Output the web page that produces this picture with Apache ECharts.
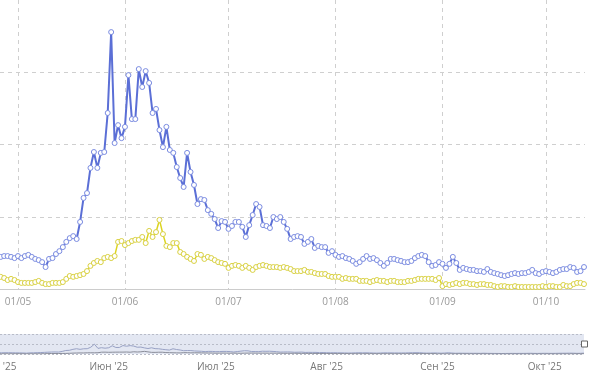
<!DOCTYPE html>
<html><head><meta charset="utf-8">
<script src="https://cdn.jsdelivr.net/npm/echarts@6/dist/echarts.min.js"></script>
<style>html,body{margin:0;padding:0;background:#fff}#c{width:592px;height:385px}</style>
</head><body><div id="c"></div>
<script>
// Daily series, first day 2025-04-26
const startDay = [2025, 3, 26];
const seriesBlue = [
 11.1,11.4,11.4,11.1,10.7,11.4,10.7,11.4,11.8,11.1,
 10.4,10.0,9.3,7.6,10.4,10.7,12.1,13.1,14.5,16.3,
 17.6,18.3,17.3,23.2,31.5,33.2,41.9,47.4,41.9,47.1,
 47.4,60.9,88.9,50.5,56.7,52.2,56.1,74.0,58.8,58.8,
 76.1,69.9,75.4,71.3,60.9,62.3,55.0,49.1,56.1,48.1,
 47.1,42.2,38.4,35.3,47.1,40.5,36.0,29.4,31.1,30.8,
 27.3,26.0,24.2,21.1,23.5,23.2,20.8,21.8,23.2,23.2,
 21.5,18.0,22.1,25.6,29.4,28.4,22.1,21.8,21.1,24.9,
 24.2,24.9,23.2,20.8,17.3,18.0,18.3,18.0,15.6,16.3,
 17.3,14.2,14.9,14.5,14.5,12.5,13.1,11.8,11.1,11.4,
 10.7,10.4,9.7,8.7,9.3,10.4,11.4,10.4,10.7,10.0,
 9.0,8.0,9.0,10.4,10.4,10.0,9.7,9.3,9.3,9.7,
 10.7,11.4,11.8,11.4,9.3,8.0,8.3,9.3,8.7,7.3,
 8.7,11.1,9.0,6.6,7.3,6.9,6.6,6.6,6.2,6.2,
 5.9,6.9,5.9,5.5,5.2,4.8,4.5,4.8,5.2,5.5,
 5.2,5.5,5.5,5.9,6.6,5.5,5.2,5.9,6.2,5.9,
 5.5,5.9,6.6,6.9,6.9,7.6,7.3,5.9,6.2,7.6
];
const seriesYellow = [
 4.2,3.8,3.1,3.5,3.1,2.4,2.1,2.1,2.1,2.1,
 2.4,2.8,2.1,1.7,1.7,2.1,2.1,2.1,2.4,3.5,
 4.5,4.2,4.5,4.8,5.2,6.2,8.0,9.0,9.7,9.3,
 10.7,11.1,10.7,11.4,16.3,16.6,15.2,15.9,16.6,17.0,
 17.0,18.0,15.9,20.1,18.0,19.7,23.9,19.0,14.9,14.5,
 15.9,15.9,12.8,12.1,11.1,10.4,9.7,12.1,11.8,10.4,
 11.1,10.7,10.0,9.3,9.0,8.7,7.3,8.0,8.3,8.0,
 7.3,8.0,7.3,6.6,7.6,8.0,8.3,8.0,7.6,7.6,
 7.6,7.3,7.6,7.3,6.9,6.2,6.2,6.2,6.6,5.9,
 5.9,5.5,5.2,5.2,5.2,4.5,4.2,4.2,4.2,3.5,
 3.8,3.5,3.5,3.5,2.8,2.8,2.8,2.4,2.8,3.1,
 2.8,2.8,2.4,2.8,2.8,2.4,2.4,2.4,2.8,2.8,
 3.1,3.5,3.5,3.5,3.5,3.5,3.1,3.8,1.0,1.7,
 1.4,1.7,2.1,1.7,2.1,2.1,1.7,1.7,1.4,1.7,
 1.7,1.4,1.4,1.0,0.7,1.0,1.0,0.7,0.7,1.0,
 0.7,0.7,0.7,0.7,0.7,0.7,0.7,1.0,0.7,1.0,
 1.0,0.7,0.7,1.4,1.0,1.0,1.7,2.1,2.1,1.7
];
const monthNames = ['Янв','Фев','Мар','Апр','Май','Июн','Июл','Авг','Сен','Окт','Ноя','Дек'];
const yTicks = [0, 25, 50, 75, 100];

const DAY = 86400000;
const t0 = Date.UTC(startDay[0], startDay[1], startDay[2]);
const dates = seriesBlue.map((_, i) => t0 + i * DAY);
const blueData = dates.map((d, i) => [d, seriesBlue[i]]);
const yellowData = dates.map((d, i) => [d, seriesYellow[i]]);

function isMonthStart(v){ const d = new Date(v); return d.getUTCDate() === 1 && d.getUTCHours() === 0; }
function pad(n){ return (n < 10 ? '0' : '') + n; }

const BLUE = '#5b6fd6', YELLOW = '#dcd420';
const chart = echarts.init(document.getElementById('c'), null, {renderer: 'canvas'});
chart.setOption({
  useUTC: true,
  animation: false,
  grid: [
    {left: 0, right: 7, top: 0, bottom: 96, outerBoundsMode: 'none', containLabel: false},
    {left: -20, right: 8, top: 334, height: 20, show: true, backgroundColor: '#e3e7f2', borderWidth: 0, outerBoundsMode: 'none', containLabel: false}
  ],
  xAxis: [{
    type: 'time', gridIndex: 0,
    min: Date.UTC(2025, 3, 25, 19), max: Date.UTC(2025, 9, 12, 7),
    axisLine: {show: true, lineStyle: {color: '#cccccc', width: 1}},
    axisTick: {show: false},
    axisLabel: {
      color: '#999', fontSize: 10, fontFamily: 'Open Sans', margin: 8,
      showMinLabel: false, showMaxLabel: false, hideOverlap: false,
      formatter: v => isMonthStart(v) ? pad(new Date(v).getUTCDate()) + '/' + pad(new Date(v).getUTCMonth() + 1) : ''
    },
    splitLine: {show: true, showMinLine: false, showMaxLine: false, lineStyle: {color: '#cfcfcf', type: [4, 4], width: 1}}
  }, {
    type: 'time', gridIndex: 1,
    min: dates[0], max: dates[dates.length - 1],
    axisLine: {show: false}, axisTick: {show: false},
    axisLabel: {
      color: '#777', fontSize: 10, fontFamily: 'Open Sans', margin: 8,
      showMinLabel: false, showMaxLabel: false, hideOverlap: false,
      formatter: v => isMonthStart(v) ? monthNames[new Date(v).getUTCMonth()] + " '" + String(new Date(v).getUTCFullYear()).slice(2) : ''
    },
    splitLine: {show: false}
  }],
  yAxis: [{
    type: 'value', gridIndex: 0, min: yTicks[0], max: yTicks[yTicks.length - 1], interval: 25,
    axisLine: {show: false}, axisTick: {show: false}, axisLabel: {show: false},
    splitLine: {show: true, showMinLine: false, showMaxLine: false, lineStyle: {color: '#cfcfcf', type: [4, 4], width: 1}}
  }, {
    type: 'value', gridIndex: 1, min: 0, max: 180, interval: 90,
    axisLine: {show: false}, axisTick: {show: false}, axisLabel: {show: false},
    splitLine: {show: true, lineStyle: {color: '#b8bcc8', type: [2, 2], width: 1}}
  }],
  dataZoom: [{
    type: 'slider', xAxisIndex: 1, start: 0, end: 100,
    left: -20, right: 8, top: 334, height: 20,
    showDataShadow: false, showDetail: false, brushSelect: false,
    backgroundColor: 'rgba(0,0,0,0)', borderColor: 'rgba(0,0,0,0)',
    fillerColor: 'rgba(0,0,0,0)',
    moveHandleSize: 0,
    handleIcon: 'path://M0,0 L10,0 L10,10 L0,10 Z',
    handleSize: '30%',
    handleStyle: {color: '#ffffff', borderColor: '#666', borderWidth: 1},
    dataBackground: {lineStyle: {opacity: 0}, areaStyle: {opacity: 0}}
  }],
  series: [{
    type: 'line', name: 'blue', xAxisIndex: 0, yAxisIndex: 0, data: blueData,
    symbol: 'circle', symbolSize: 5, showAllSymbol: true,
    lineStyle: {color: BLUE, width: 2},
    itemStyle: {color: '#ffffff', borderColor: '#7a8be0', borderWidth: 1}, z: 3
  }, {
    type: 'line', name: 'yellow', xAxisIndex: 0, yAxisIndex: 0, data: yellowData,
    symbol: 'circle', symbolSize: 5, showAllSymbol: true,
    lineStyle: {color: YELLOW, width: 1.5},
    itemStyle: {color: '#ffffff', borderColor: '#d8d040', borderWidth: 1}, z: 2
  }, {
    type: 'line', xAxisIndex: 1, yAxisIndex: 1, data: blueData, showSymbol: false,
    lineStyle: {color: '#98a1c4', width: 1}, silent: true
  }, {
    type: 'line', xAxisIndex: 1, yAxisIndex: 1, data: yellowData, showSymbol: false,
    lineStyle: {color: '#8a8d99', width: 1}, silent: true
  }]
});
</script></body></html>
